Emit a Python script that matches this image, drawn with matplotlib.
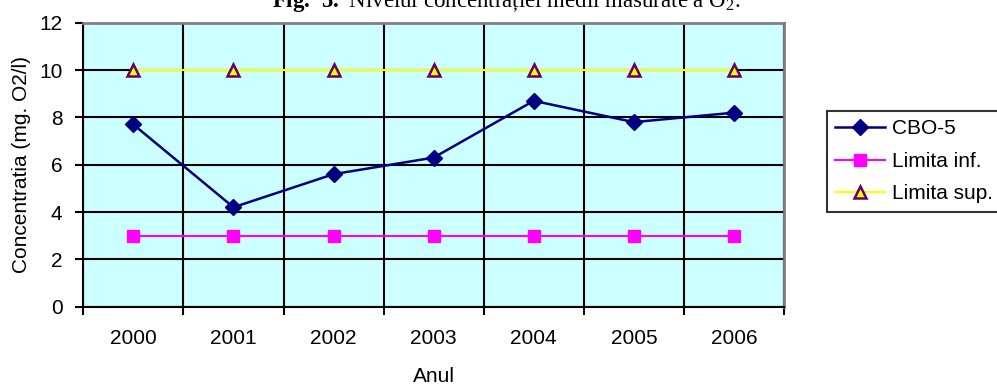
import numpy as np
import matplotlib
matplotlib.use('Agg')
import matplotlib.pyplot as plt
from matplotlib.ticker import FixedLocator

plt.rcParams['font.family'] = 'Liberation Sans'
plt.rcParams['mathtext.fontset'] = 'custom'
plt.rcParams['mathtext.rm'] = 'Liberation Serif'
plt.rcParams['mathtext.bf'] = 'Liberation Serif:bold'

ani = ['2000', '2001', '2002', '2003', '2004', '2005', '2006']
cbo5 = [7.7, 4.2, 5.6, 6.3, 8.7, 7.8, 8.2]
limita_inf = [3, 3, 3, 3, 3, 3, 3]
limita_sup = [10, 10, 10, 10, 10, 10, 10]

fig = plt.figure(figsize=(9.97, 3.85), dpi=100)
ax = fig.add_axes([83.3/997, 1-306.6/385, (784-83.3)/997, (306.6-22.8)/385])
ax.set_facecolor('#CCFFFF')

x = np.arange(len(ani))
ax.plot(x, cbo5, color='#000080', lw=1.8, marker='D', ms=8,
        mfc='#000080', mec='#000080', label='CBO-5', zorder=5)
ax.plot(x, limita_inf, color='#FF00FF', lw=1.5, marker='s', ms=8,
        mfc='#FF00FF', mec='#FF00FF', label='Limita inf.', zorder=4)
ax.plot(x, limita_sup, color='#FFFF00', lw=1.5, marker='^', ms=9,
        mfc='#FFFF00', mec='#660066', mew=1.8, label='Limita sup.', zorder=4)

ax.set_xlim(-0.5, len(ani) - 0.5)
ax.set_ylim(0, 12)
ax.set_yticks(np.arange(0, 13, 2))

# etichetele anilor in centrul categoriilor, liniile de grila intre ele
ax.set_xticks(x)
ax.set_xticklabels(ani)
ax.xaxis.set_minor_locator(FixedLocator(np.arange(-0.5, len(ani), 1)))
ax.tick_params(axis='x', which='major', length=0, pad=16, labelsize=15)
ax.tick_params(axis='x', which='minor', length=6, width=1.5, direction='out')
ax.tick_params(axis='y', length=6, width=1.5, pad=9, labelsize=15)

ax.grid(True, axis='x', which='minor', color='black', lw=1.5, zorder=1)
ax.grid(True, axis='y', which='major', color='black', lw=1.5, zorder=1)
ax.set_axisbelow(True)

for s in ['left', 'bottom']:
    ax.spines[s].set_color('black')
    ax.spines[s].set_linewidth(1.5)
for s in ['top', 'right']:
    ax.spines[s].set_color('#808080')
    ax.spines[s].set_linewidth(2)

ax.set_xlabel('Anul', fontsize=15, labelpad=14)
ax.set_ylabel('Concentratia (mg. O2/l)', fontsize=15, labelpad=6)

# titlul figurii, partial in afara imaginii
fig.text(0.508, 1 - 7/385, r'$\mathbf{Fig.\ 5.}$ Nivelul concentrației medii măsurate a O$_2$.',
         ha='center', va='baseline', fontsize=16.5, family='Liberation Serif')

leg = fig.legend(loc='upper left', bbox_to_anchor=(826.7/997, 1 - 111/385),
                 fontsize=15, frameon=True, fancybox=False, handlelength=2.4,
                 labelspacing=0.65, borderpad=0.4, handletextpad=0.35,
                 borderaxespad=0)
leg.get_frame().set_edgecolor('black')
leg.get_frame().set_linewidth(1.5)

fig.savefig('out.png', dpi=100)
